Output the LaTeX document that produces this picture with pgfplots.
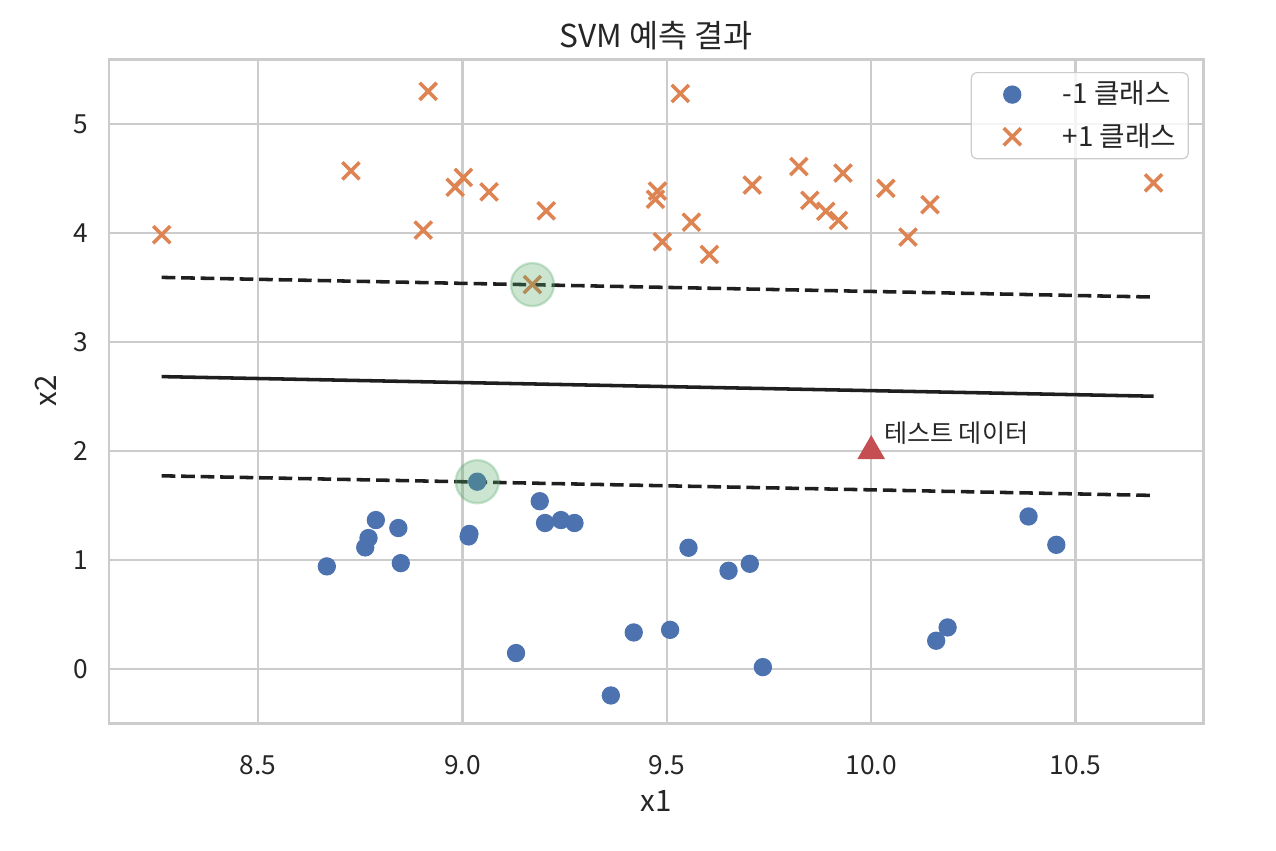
\documentclass[border=0pt]{standalone}
\usepackage{fontspec}
\setmainfont{Noto Sans CJK KR}
\usepackage{pgfplots}
\pgfplotsset{compat=1.18}
\usetikzlibrary{calc}
\definecolor{sbblue}{HTML}{4C72B0}
\definecolor{sborange}{HTML}{DD8452}
\definecolor{sbred}{HTML}{C44E52}
\definecolor{sbgreen}{HTML}{55A868}
\definecolor{gridgray}{HTML}{CCCCCC}
\definecolor{txt}{HTML}{262626}
\begin{document}
\begin{tikzpicture}
\begin{axis}[
  scale only axis, width=370.4pt, height=224.8pt,
  xmin=8.135, xmax=10.812, ymin=-0.495, ymax=5.596,
  xtick={8.5,9,9.5,10,10.5}, xticklabels={8.5,9.0,9.5,10.0,10.5},
  ytick={0,1,2,3,4,5},
  grid=major, major grid style={draw=gridgray, line width=0.8pt},
  axis line style={draw=gridgray, line width=1pt},
  tick style={draw=none},
  /pgf/number format/assume math mode=true,
  ticklabel style={font=\fontsize{8.9}{10}\selectfont, text=txt},
  xticklabel style={yshift=-7.4pt},
  yticklabel style={xshift=-3.4pt},
  xlabel={x1}, ylabel={x2},
  label style={font=\fontsize{10}{12}\selectfont, text=txt},
  xlabel style={yshift=1.4pt},
  ylabel style={yshift=-1pt},
  title={SVM 예측 결과},
  title style={font=\fontsize{10.7}{12}\selectfont, text=txt, yshift=-6.5pt},
  legend style={at={(1,1)}, anchor=north east, xshift=-4.8pt, yshift=-4.4pt,
    draw=gridgray, rounded corners=2pt, fill=white, fill opacity=0.8, text opacity=1, draw opacity=1,
    font=\fontsize{9.4}{10}\selectfont, text=txt, row sep=3pt,
    inner xsep=2pt, inner ysep=1.8pt, nodes={inner ysep=1pt}},
  legend image post style={opacity=1, fill opacity=1},
  legend image code/.code={\path (0.19cm,0cm); \draw[#1] plot coordinates {(0.6cm,0cm)};},
  legend cell align=left,
]
\addplot[only marks, mark=*, mark size=2.9pt, color=sbblue, mark options={draw=sbblue, fill=sbblue}] table {
8.668 0.942
8.762 1.116
8.770 1.202
8.788 1.367
8.843 1.294
8.849 0.972
9.015 1.217
9.017 1.240
9.036 1.719
9.131 0.147
9.189 1.540
9.202 1.340
9.241 1.367
9.274 1.340
9.363 -0.242
9.419 0.336
9.508 0.360
9.553 1.113
9.651 0.902
9.703 0.966
9.735 0.018
10.159 0.260
10.187 0.382
10.385 1.400
10.453 1.140
};
\addlegendentry{\hspace{12.2pt}-1 클래스}
\addplot[only marks, mark=x, mark size=4.1pt, color=sborange, mark options={line width=1.2pt}] table {
8.264 3.985
8.727 4.570
8.916 5.300
8.904 4.027
8.982 4.420
9.002 4.510
9.065 4.378
9.205 4.204
9.171 3.527
9.477 4.385
9.472 4.310
9.489 3.920
9.533 5.280
9.560 4.100
9.604 3.804
9.709 4.440
9.823 4.610
9.931 4.550
9.850 4.300
9.889 4.200
9.920 4.116
10.036 4.410
10.090 3.963
10.144 4.260
10.691 4.460
};
\addlegendentry{\hspace{12.2pt}+1 클래스}
\addplot[only marks, mark=*, mark size=7.3pt, forget plot,
  mark options={fill=sbgreen, fill opacity=0.3, draw=sbgreen, draw opacity=0.3, line width=0.8pt}] table {
9.036 1.719
9.171 3.527
};
\addplot[forget plot, no marks, line width=1.2pt, color=black!88] table {
8.264 2.683
10.691 2.503
};
\addplot[forget plot, no marks, line width=1.2pt, color=black!88, dash pattern=on 4.6pt off 2pt] table {
8.264 3.593
10.691 3.413
};
\addplot[forget plot, no marks, line width=1.2pt, color=black!88, dash pattern=on 4.6pt off 2pt] table {
8.264 1.773
10.691 1.593
};
\addplot[forget plot, only marks, mark=triangle*, mark size=5pt, color=sbred, mark options={fill=sbred, draw=sbred}] table {
10.0 2.0
};
\node[anchor=base west, font=\fontsize{8.5}{10}\selectfont, text=txt, inner sep=0pt] at (axis cs:10.03,2.08) {테스트 데이터};
\end{axis}
\path ($(current axis.south west)+(-36.9pt,-43pt)$) rectangle ($(current axis.north east)+(24.7pt,20pt)$);
\end{tikzpicture}
\end{document}
